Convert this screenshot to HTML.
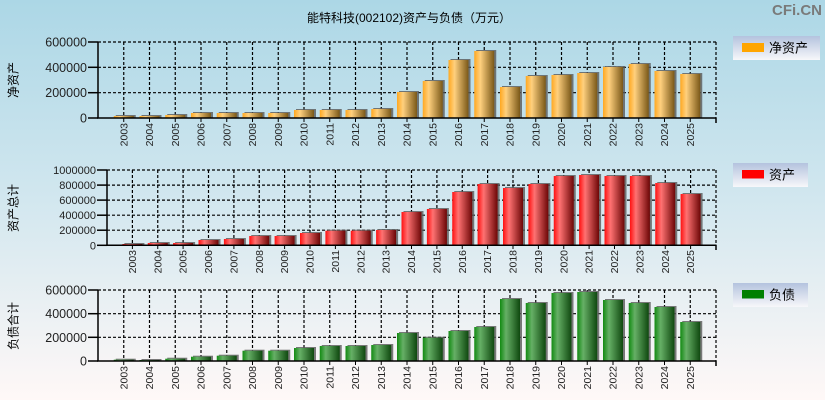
<!DOCTYPE html>
<html><head><meta charset="utf-8">
<style>
html,body{margin:0;padding:0;}
body{width:825px;height:400px;overflow:hidden;}
svg{display:block;font-family:"Liberation Sans","Noto Sans CJK SC",sans-serif;}
</style></head>
<body>
<svg width="825" height="400" viewBox="0 0 825 400" xmlns="http://www.w3.org/2000/svg">
<defs>
<linearGradient id="bg" x1="0" y1="0" x2="0" y2="1">
<stop offset="0" stop-color="#acd7e6"/>
<stop offset="0.5" stop-color="#d2e7ef"/>
<stop offset="1" stop-color="#fff8f7"/>
</linearGradient>
<linearGradient id="lg" x1="0" y1="0" x2="0" y2="1">
<stop offset="0" stop-color="#b4c3de"/>
<stop offset="1" stop-color="#f7f7fa"/>
</linearGradient>
<linearGradient id="go" x1="0" y1="0" x2="1" y2="0">
<stop offset="0" stop-color="#ffa820"/>
<stop offset="0.3" stop-color="#ffd07e"/>
<stop offset="1" stop-color="#7a5818"/>
</linearGradient>
<linearGradient id="gr" x1="0" y1="0" x2="1" y2="0">
<stop offset="0" stop-color="#ff1010"/>
<stop offset="0.3" stop-color="#ff7272"/>
<stop offset="1" stop-color="#6c0606"/>
</linearGradient>
<linearGradient id="gg" x1="0" y1="0" x2="1" y2="0">
<stop offset="0" stop-color="#128a12"/>
<stop offset="0.3" stop-color="#66b066"/>
<stop offset="1" stop-color="#0f480f"/>
</linearGradient>
</defs>
<rect x="0" y="0" width="825" height="400" fill="url(#bg)"/>

<!-- Title -->
<text x="409" y="22" font-size="12" text-anchor="middle" fill="#000">能特科技(002102)资产与负债（万元）</text>
<text x="822" y="15" font-size="15" font-weight="bold" text-anchor="end" fill="#7a7a7a">CFi.CN</text>

<!-- ============ Chart 1 ============ -->
<g stroke="#000" stroke-width="1.2" stroke-dasharray="3,2" fill="none">
<line x1="98" y1="42" x2="716" y2="42"/>
<line x1="98" y1="67.3" x2="716" y2="67.3"/>
<line x1="98" y1="92.7" x2="716" y2="92.7"/>
<line x1="716" y1="42" x2="716" y2="118"/>
<line x1="123.75" y1="42" x2="123.75" y2="118"/><line x1="149.5" y1="42" x2="149.5" y2="118"/><line x1="175.25" y1="42" x2="175.25" y2="118"/><line x1="201" y1="42" x2="201" y2="118"/><line x1="226.75" y1="42" x2="226.75" y2="118"/><line x1="252.5" y1="42" x2="252.5" y2="118"/><line x1="278.25" y1="42" x2="278.25" y2="118"/><line x1="304" y1="42" x2="304" y2="118"/><line x1="329.75" y1="42" x2="329.75" y2="118"/><line x1="355.5" y1="42" x2="355.5" y2="118"/><line x1="381.25" y1="42" x2="381.25" y2="118"/><line x1="407" y1="42" x2="407" y2="118"/><line x1="432.75" y1="42" x2="432.75" y2="118"/><line x1="458.5" y1="42" x2="458.5" y2="118"/><line x1="484.25" y1="42" x2="484.25" y2="118"/><line x1="510" y1="42" x2="510" y2="118"/><line x1="535.75" y1="42" x2="535.75" y2="118"/><line x1="561.5" y1="42" x2="561.5" y2="118"/><line x1="587.25" y1="42" x2="587.25" y2="118"/><line x1="613" y1="42" x2="613" y2="118"/><line x1="638.75" y1="42" x2="638.75" y2="118"/><line x1="664.5" y1="42" x2="664.5" y2="118"/><line x1="690.25" y1="42" x2="690.25" y2="118"/>
</g>
<g fill="#5a5a5a" opacity="0.8">
<rect x="115.75" y="115" width="20" height="3"/><rect x="141.5" y="115" width="20" height="3"/><rect x="167.25" y="114" width="20" height="4"/><rect x="193" y="112" width="20" height="6"/><rect x="218.75" y="112" width="20" height="6"/><rect x="244.5" y="112" width="20" height="6"/><rect x="270.25" y="112" width="20" height="6"/><rect x="296" y="109" width="20" height="9"/><rect x="321.75" y="109" width="20" height="9"/><rect x="347.5" y="109" width="20" height="9"/><rect x="373.25" y="108" width="20" height="10"/><rect x="399" y="91" width="20" height="27"/><rect x="424.75" y="80" width="20" height="38"/><rect x="450.5" y="59" width="20" height="59"/><rect x="476.25" y="50" width="20" height="68"/><rect x="502" y="86" width="20" height="32"/><rect x="527.75" y="75" width="20" height="43"/><rect x="553.5" y="74" width="20" height="44"/><rect x="579.25" y="72" width="20" height="46"/><rect x="605" y="66" width="20" height="52"/><rect x="630.75" y="63" width="20" height="55"/><rect x="656.5" y="70" width="20" height="48"/><rect x="682.25" y="73" width="20" height="45"/>
</g>
<g fill="url(#go)">
<rect x="113.75" y="116" width="20" height="2"/><rect x="139.5" y="116" width="20" height="2"/><rect x="165.25" y="115" width="20" height="3"/><rect x="191" y="113" width="20" height="5"/><rect x="216.75" y="113" width="20" height="5"/><rect x="242.5" y="113" width="20" height="5"/><rect x="268.25" y="113" width="20" height="5"/><rect x="294" y="110" width="20" height="8"/><rect x="319.75" y="110" width="20" height="8"/><rect x="345.5" y="110" width="20" height="8"/><rect x="371.25" y="109" width="20" height="9"/><rect x="397" y="92" width="20" height="26"/><rect x="422.75" y="81" width="20" height="37"/><rect x="448.5" y="60" width="20" height="58"/><rect x="474.25" y="51" width="20" height="67"/><rect x="500" y="87" width="20" height="31"/><rect x="525.75" y="76" width="20" height="42"/><rect x="551.5" y="75" width="20" height="43"/><rect x="577.25" y="73" width="20" height="45"/><rect x="603" y="67" width="20" height="51"/><rect x="628.75" y="64" width="20" height="54"/><rect x="654.5" y="71" width="20" height="47"/><rect x="680.25" y="74" width="20" height="44"/>
</g>
<g stroke="#000" stroke-width="1.5" fill="none">
<line x1="98" y1="41.5" x2="98" y2="118.5"/>
<line x1="97" y1="118" x2="716.5" y2="118"/>
<line x1="88" y1="42" x2="98" y2="42"/><line x1="88" y1="67.3" x2="98" y2="67.3"/><line x1="88" y1="92.7" x2="98" y2="92.7"/><line x1="88" y1="118" x2="98" y2="118"/>
<line x1="716" y1="118" x2="716" y2="123"/>
</g>
<g stroke="#000" stroke-width="1">
<line x1="123.75" y1="118" x2="123.75" y2="122"/><line x1="149.5" y1="118" x2="149.5" y2="122"/><line x1="175.25" y1="118" x2="175.25" y2="122"/><line x1="201" y1="118" x2="201" y2="122"/><line x1="226.75" y1="118" x2="226.75" y2="122"/><line x1="252.5" y1="118" x2="252.5" y2="122"/><line x1="278.25" y1="118" x2="278.25" y2="122"/><line x1="304" y1="118" x2="304" y2="122"/><line x1="329.75" y1="118" x2="329.75" y2="122"/><line x1="355.5" y1="118" x2="355.5" y2="122"/><line x1="381.25" y1="118" x2="381.25" y2="122"/><line x1="407" y1="118" x2="407" y2="122"/><line x1="432.75" y1="118" x2="432.75" y2="122"/><line x1="458.5" y1="118" x2="458.5" y2="122"/><line x1="484.25" y1="118" x2="484.25" y2="122"/><line x1="510" y1="118" x2="510" y2="122"/><line x1="535.75" y1="118" x2="535.75" y2="122"/><line x1="561.5" y1="118" x2="561.5" y2="122"/><line x1="587.25" y1="118" x2="587.25" y2="122"/><line x1="613" y1="118" x2="613" y2="122"/><line x1="638.75" y1="118" x2="638.75" y2="122"/><line x1="664.5" y1="118" x2="664.5" y2="122"/><line x1="690.25" y1="118" x2="690.25" y2="122"/>
</g>
<g font-size="12.5" fill="#222" text-anchor="end">
<text x="87" y="46.5">600000</text><text x="87" y="71.8">400000</text><text x="87" y="97.2">200000</text><text x="87" y="122.5">0</text>
</g>
<g font-size="10.5" fill="#222" text-anchor="end">
<text transform="translate(127.25,123) rotate(-90)">2003</text><text transform="translate(153,123) rotate(-90)">2004</text><text transform="translate(178.75,123) rotate(-90)">2005</text><text transform="translate(204.5,123) rotate(-90)">2006</text><text transform="translate(230.25,123) rotate(-90)">2007</text><text transform="translate(256,123) rotate(-90)">2008</text><text transform="translate(281.75,123) rotate(-90)">2009</text><text transform="translate(307.5,123) rotate(-90)">2010</text><text transform="translate(333.25,123) rotate(-90)">2011</text><text transform="translate(359,123) rotate(-90)">2012</text><text transform="translate(384.75,123) rotate(-90)">2013</text><text transform="translate(410.5,123) rotate(-90)">2014</text><text transform="translate(436.25,123) rotate(-90)">2015</text><text transform="translate(462,123) rotate(-90)">2016</text><text transform="translate(487.75,123) rotate(-90)">2017</text><text transform="translate(513.5,123) rotate(-90)">2018</text><text transform="translate(539.25,123) rotate(-90)">2019</text><text transform="translate(565,123) rotate(-90)">2020</text><text transform="translate(590.75,123) rotate(-90)">2021</text><text transform="translate(616.5,123) rotate(-90)">2022</text><text transform="translate(642.25,123) rotate(-90)">2023</text><text transform="translate(668,123) rotate(-90)">2024</text><text transform="translate(693.75,123) rotate(-90)">2025</text>
</g>
<text transform="translate(17.5,80) rotate(-90)" font-size="12" text-anchor="middle" fill="#000">净资产</text>
<rect x="733" y="36" width="87" height="24" fill="url(#lg)"/>
<rect x="742" y="43" width="22" height="9" fill="#ffa500"/>
<text x="769" y="52.5" font-size="13" fill="#000">净资产</text>

<!-- ============ Chart 2 ============ -->
<g stroke="#000" stroke-width="1.2" stroke-dasharray="3,2" fill="none">
<line x1="107" y1="170" x2="716" y2="170"/>
<line x1="107" y1="185.1" x2="716" y2="185.1"/>
<line x1="107" y1="200.1" x2="716" y2="200.1"/>
<line x1="107" y1="215.2" x2="716" y2="215.2"/>
<line x1="107" y1="230.2" x2="716" y2="230.2"/>
<line x1="716" y1="170" x2="716" y2="245.3"/>
<line x1="132.4" y1="170" x2="132.4" y2="245"/><line x1="157.75" y1="170" x2="157.75" y2="245"/><line x1="183.1" y1="170" x2="183.1" y2="245"/><line x1="208.5" y1="170" x2="208.5" y2="245"/><line x1="233.9" y1="170" x2="233.9" y2="245"/><line x1="259.25" y1="170" x2="259.25" y2="245"/><line x1="284.6" y1="170" x2="284.6" y2="245"/><line x1="310" y1="170" x2="310" y2="245"/><line x1="335.4" y1="170" x2="335.4" y2="245"/><line x1="360.75" y1="170" x2="360.75" y2="245"/><line x1="386.1" y1="170" x2="386.1" y2="245"/><line x1="411.5" y1="170" x2="411.5" y2="245"/><line x1="436.9" y1="170" x2="436.9" y2="245"/><line x1="462.25" y1="170" x2="462.25" y2="245"/><line x1="487.6" y1="170" x2="487.6" y2="245"/><line x1="513" y1="170" x2="513" y2="245"/><line x1="538.4" y1="170" x2="538.4" y2="245"/><line x1="563.75" y1="170" x2="563.75" y2="245"/><line x1="589.1" y1="170" x2="589.1" y2="245"/><line x1="614.5" y1="170" x2="614.5" y2="245"/><line x1="639.9" y1="170" x2="639.9" y2="245"/><line x1="665.25" y1="170" x2="665.25" y2="245"/><line x1="690.6" y1="170" x2="690.6" y2="245"/>
</g>
<g fill="#5a5a5a" opacity="0.8">
<rect x="124.4" y="243" width="20" height="2.3"/><rect x="149.75" y="242" width="20" height="3.3"/><rect x="175.1" y="242" width="20" height="3.3"/><rect x="200.5" y="239" width="20" height="6.3"/><rect x="225.9" y="238" width="20" height="7.3"/><rect x="251.25" y="235" width="20" height="10.3"/><rect x="276.6" y="235" width="20" height="10.3"/><rect x="302" y="232" width="20" height="13.3"/><rect x="327.4" y="229.7" width="20" height="15.6"/><rect x="352.75" y="229.7" width="20" height="15.6"/><rect x="378.1" y="229" width="20" height="16.3"/><rect x="403.5" y="211" width="20" height="34.3"/><rect x="428.9" y="208" width="20" height="37.3"/><rect x="454.25" y="191" width="20" height="54.3"/><rect x="479.6" y="183" width="20" height="62.3"/><rect x="505" y="187" width="20" height="58.3"/><rect x="530.4" y="183" width="20" height="62.3"/><rect x="555.75" y="175" width="20" height="70.3"/><rect x="581.1" y="174" width="20" height="71.3"/><rect x="606.5" y="175" width="20" height="70.3"/><rect x="631.9" y="175" width="20" height="70.3"/><rect x="657.25" y="182" width="20" height="63.3"/><rect x="682.6" y="193" width="20" height="52.3"/>
</g>
<g fill="url(#gr)">
<rect x="122.4" y="244" width="20" height="1.3"/><rect x="147.75" y="243" width="20" height="2.3"/><rect x="173.1" y="243" width="20" height="2.3"/><rect x="198.5" y="240" width="20" height="5.3"/><rect x="223.9" y="239" width="20" height="6.3"/><rect x="249.25" y="236" width="20" height="9.3"/><rect x="274.6" y="236" width="20" height="9.3"/><rect x="300" y="233" width="20" height="12.3"/><rect x="325.4" y="230.7" width="20" height="14.6"/><rect x="350.75" y="230.7" width="20" height="14.6"/><rect x="376.1" y="230" width="20" height="15.3"/><rect x="401.5" y="212" width="20" height="33.3"/><rect x="426.9" y="209" width="20" height="36.3"/><rect x="452.25" y="192" width="20" height="53.3"/><rect x="477.6" y="184" width="20" height="61.3"/><rect x="503" y="188" width="20" height="57.3"/><rect x="528.4" y="184" width="20" height="61.3"/><rect x="553.75" y="176" width="20" height="69.3"/><rect x="579.1" y="175" width="20" height="70.3"/><rect x="604.5" y="176" width="20" height="69.3"/><rect x="629.9" y="176" width="20" height="69.3"/><rect x="655.25" y="183" width="20" height="62.3"/><rect x="680.6" y="194" width="20" height="51.3"/>
</g>
<g stroke="#000" stroke-width="1.5" fill="none">
<line x1="107" y1="169.5" x2="107" y2="245.8"/>
<line x1="106" y1="245.3" x2="716.5" y2="245.3"/>
<line x1="97" y1="170" x2="107" y2="170"/><line x1="97" y1="185.1" x2="107" y2="185.1"/><line x1="97" y1="200.1" x2="107" y2="200.1"/><line x1="97" y1="215.2" x2="107" y2="215.2"/><line x1="97" y1="230.2" x2="107" y2="230.2"/><line x1="97" y1="245.3" x2="107" y2="245.3"/>
<line x1="716" y1="245" x2="716" y2="250"/>
</g>
<g stroke="#000" stroke-width="1">
<line x1="132.4" y1="245" x2="132.4" y2="249"/><line x1="157.75" y1="245" x2="157.75" y2="249"/><line x1="183.1" y1="245" x2="183.1" y2="249"/><line x1="208.5" y1="245" x2="208.5" y2="249"/><line x1="233.9" y1="245" x2="233.9" y2="249"/><line x1="259.25" y1="245" x2="259.25" y2="249"/><line x1="284.6" y1="245" x2="284.6" y2="249"/><line x1="310" y1="245" x2="310" y2="249"/><line x1="335.4" y1="245" x2="335.4" y2="249"/><line x1="360.75" y1="245" x2="360.75" y2="249"/><line x1="386.1" y1="245" x2="386.1" y2="249"/><line x1="411.5" y1="245" x2="411.5" y2="249"/><line x1="436.9" y1="245" x2="436.9" y2="249"/><line x1="462.25" y1="245" x2="462.25" y2="249"/><line x1="487.6" y1="245" x2="487.6" y2="249"/><line x1="513" y1="245" x2="513" y2="249"/><line x1="538.4" y1="245" x2="538.4" y2="249"/><line x1="563.75" y1="245" x2="563.75" y2="249"/><line x1="589.1" y1="245" x2="589.1" y2="249"/><line x1="614.5" y1="245" x2="614.5" y2="249"/><line x1="639.9" y1="245" x2="639.9" y2="249"/><line x1="665.25" y1="245" x2="665.25" y2="249"/><line x1="690.6" y1="245" x2="690.6" y2="249"/>
</g>
<g font-size="11" fill="#222" text-anchor="end">
<text x="96" y="174">1000000</text><text x="96" y="189.1">800000</text><text x="96" y="204.1">600000</text><text x="96" y="219.2">400000</text><text x="96" y="234.2">200000</text><text x="96" y="249.3">0</text>
</g>
<g font-size="10.5" fill="#222" text-anchor="end">
<text transform="translate(135.9,250) rotate(-90)">2003</text><text transform="translate(161.25,250) rotate(-90)">2004</text><text transform="translate(186.6,250) rotate(-90)">2005</text><text transform="translate(212,250) rotate(-90)">2006</text><text transform="translate(237.4,250) rotate(-90)">2007</text><text transform="translate(262.75,250) rotate(-90)">2008</text><text transform="translate(288.1,250) rotate(-90)">2009</text><text transform="translate(313.5,250) rotate(-90)">2010</text><text transform="translate(338.9,250) rotate(-90)">2011</text><text transform="translate(364.25,250) rotate(-90)">2012</text><text transform="translate(389.6,250) rotate(-90)">2013</text><text transform="translate(415,250) rotate(-90)">2014</text><text transform="translate(440.4,250) rotate(-90)">2015</text><text transform="translate(465.75,250) rotate(-90)">2016</text><text transform="translate(491.1,250) rotate(-90)">2017</text><text transform="translate(516.5,250) rotate(-90)">2018</text><text transform="translate(541.9,250) rotate(-90)">2019</text><text transform="translate(567.25,250) rotate(-90)">2020</text><text transform="translate(592.6,250) rotate(-90)">2021</text><text transform="translate(618,250) rotate(-90)">2022</text><text transform="translate(643.4,250) rotate(-90)">2023</text><text transform="translate(668.75,250) rotate(-90)">2024</text><text transform="translate(694.1,250) rotate(-90)">2025</text>
</g>
<text transform="translate(17.5,208) rotate(-90)" font-size="12" text-anchor="middle" fill="#000">资产总计</text>
<rect x="733" y="163" width="75" height="24" fill="url(#lg)"/>
<rect x="742" y="170" width="22" height="8.5" fill="#ff0000"/>
<text x="769" y="179.5" font-size="13" fill="#000">资产</text>

<!-- ============ Chart 3 ============ -->
<g stroke="#000" stroke-width="1.2" stroke-dasharray="3,2" fill="none">
<line x1="98" y1="290" x2="716" y2="290"/>
<line x1="98" y1="313.7" x2="716" y2="313.7"/>
<line x1="98" y1="337.3" x2="716" y2="337.3"/>
<line x1="716" y1="290" x2="716" y2="361"/>
<line x1="123.75" y1="290" x2="123.75" y2="361"/><line x1="149.5" y1="290" x2="149.5" y2="361"/><line x1="175.25" y1="290" x2="175.25" y2="361"/><line x1="201" y1="290" x2="201" y2="361"/><line x1="226.75" y1="290" x2="226.75" y2="361"/><line x1="252.5" y1="290" x2="252.5" y2="361"/><line x1="278.25" y1="290" x2="278.25" y2="361"/><line x1="304" y1="290" x2="304" y2="361"/><line x1="329.75" y1="290" x2="329.75" y2="361"/><line x1="355.5" y1="290" x2="355.5" y2="361"/><line x1="381.25" y1="290" x2="381.25" y2="361"/><line x1="407" y1="290" x2="407" y2="361"/><line x1="432.75" y1="290" x2="432.75" y2="361"/><line x1="458.5" y1="290" x2="458.5" y2="361"/><line x1="484.25" y1="290" x2="484.25" y2="361"/><line x1="510" y1="290" x2="510" y2="361"/><line x1="535.75" y1="290" x2="535.75" y2="361"/><line x1="561.5" y1="290" x2="561.5" y2="361"/><line x1="587.25" y1="290" x2="587.25" y2="361"/><line x1="613" y1="290" x2="613" y2="361"/><line x1="638.75" y1="290" x2="638.75" y2="361"/><line x1="664.5" y1="290" x2="664.5" y2="361"/><line x1="690.25" y1="290" x2="690.25" y2="361"/>
</g>
<g fill="#5a5a5a" opacity="0.8">
<rect x="115.75" y="358.7" width="20" height="2.3"/><rect x="141.5" y="359" width="20" height="2"/><rect x="167.25" y="357.7" width="20" height="3.3"/><rect x="193" y="355.7" width="20" height="5.3"/><rect x="218.75" y="354.7" width="20" height="6.3"/><rect x="244.5" y="349.7" width="20" height="11.3"/><rect x="270.25" y="349.7" width="20" height="11.3"/><rect x="296" y="347" width="20" height="14"/><rect x="321.75" y="345" width="20" height="16"/><rect x="347.5" y="345" width="20" height="16"/><rect x="373.25" y="344" width="20" height="17"/><rect x="399" y="332" width="20" height="29"/><rect x="424.75" y="336.7" width="20" height="24.3"/><rect x="450.5" y="330" width="20" height="31"/><rect x="476.25" y="326" width="20" height="35"/><rect x="502" y="298" width="20" height="63"/><rect x="527.75" y="302" width="20" height="59"/><rect x="553.5" y="292" width="20" height="69"/><rect x="579.25" y="291" width="20" height="70"/><rect x="605" y="299" width="20" height="62"/><rect x="630.75" y="302" width="20" height="59"/><rect x="656.5" y="306" width="20" height="55"/><rect x="682.25" y="321" width="20" height="40"/>
</g>
<g fill="url(#gg)">
<rect x="113.75" y="359.7" width="20" height="1.3"/><rect x="139.5" y="360" width="20" height="1"/><rect x="165.25" y="358.7" width="20" height="2.3"/><rect x="191" y="356.7" width="20" height="4.3"/><rect x="216.75" y="355.7" width="20" height="5.3"/><rect x="242.5" y="350.7" width="20" height="10.3"/><rect x="268.25" y="350.7" width="20" height="10.3"/><rect x="294" y="348" width="20" height="13"/><rect x="319.75" y="346" width="20" height="15"/><rect x="345.5" y="346" width="20" height="15"/><rect x="371.25" y="345" width="20" height="16"/><rect x="397" y="333" width="20" height="28"/><rect x="422.75" y="337.7" width="20" height="23.3"/><rect x="448.5" y="331" width="20" height="30"/><rect x="474.25" y="327" width="20" height="34"/><rect x="500" y="299" width="20" height="62"/><rect x="525.75" y="303" width="20" height="58"/><rect x="551.5" y="293" width="20" height="68"/><rect x="577.25" y="292" width="20" height="69"/><rect x="603" y="300" width="20" height="61"/><rect x="628.75" y="303" width="20" height="58"/><rect x="654.5" y="307" width="20" height="54"/><rect x="680.25" y="322" width="20" height="39"/>
</g>
<g stroke="#000" stroke-width="1.5" fill="none">
<line x1="98" y1="289.5" x2="98" y2="361.5"/>
<line x1="97" y1="361" x2="716.5" y2="361"/>
<line x1="88" y1="290" x2="98" y2="290"/><line x1="88" y1="313.7" x2="98" y2="313.7"/><line x1="88" y1="337.3" x2="98" y2="337.3"/><line x1="88" y1="361" x2="98" y2="361"/>
<line x1="716" y1="361" x2="716" y2="366"/>
</g>
<g stroke="#000" stroke-width="1">
<line x1="123.75" y1="361" x2="123.75" y2="365"/><line x1="149.5" y1="361" x2="149.5" y2="365"/><line x1="175.25" y1="361" x2="175.25" y2="365"/><line x1="201" y1="361" x2="201" y2="365"/><line x1="226.75" y1="361" x2="226.75" y2="365"/><line x1="252.5" y1="361" x2="252.5" y2="365"/><line x1="278.25" y1="361" x2="278.25" y2="365"/><line x1="304" y1="361" x2="304" y2="365"/><line x1="329.75" y1="361" x2="329.75" y2="365"/><line x1="355.5" y1="361" x2="355.5" y2="365"/><line x1="381.25" y1="361" x2="381.25" y2="365"/><line x1="407" y1="361" x2="407" y2="365"/><line x1="432.75" y1="361" x2="432.75" y2="365"/><line x1="458.5" y1="361" x2="458.5" y2="365"/><line x1="484.25" y1="361" x2="484.25" y2="365"/><line x1="510" y1="361" x2="510" y2="365"/><line x1="535.75" y1="361" x2="535.75" y2="365"/><line x1="561.5" y1="361" x2="561.5" y2="365"/><line x1="587.25" y1="361" x2="587.25" y2="365"/><line x1="613" y1="361" x2="613" y2="365"/><line x1="638.75" y1="361" x2="638.75" y2="365"/><line x1="664.5" y1="361" x2="664.5" y2="365"/><line x1="690.25" y1="361" x2="690.25" y2="365"/>
</g>
<g font-size="12.5" fill="#222" text-anchor="end">
<text x="87" y="294.5">600000</text><text x="87" y="318.2">400000</text><text x="87" y="341.8">200000</text><text x="87" y="365.5">0</text>
</g>
<g font-size="10.5" fill="#222" text-anchor="end">
<text transform="translate(127.25,366) rotate(-90)">2003</text><text transform="translate(153,366) rotate(-90)">2004</text><text transform="translate(178.75,366) rotate(-90)">2005</text><text transform="translate(204.5,366) rotate(-90)">2006</text><text transform="translate(230.25,366) rotate(-90)">2007</text><text transform="translate(256,366) rotate(-90)">2008</text><text transform="translate(281.75,366) rotate(-90)">2009</text><text transform="translate(307.5,366) rotate(-90)">2010</text><text transform="translate(333.25,366) rotate(-90)">2011</text><text transform="translate(359,366) rotate(-90)">2012</text><text transform="translate(384.75,366) rotate(-90)">2013</text><text transform="translate(410.5,366) rotate(-90)">2014</text><text transform="translate(436.25,366) rotate(-90)">2015</text><text transform="translate(462,366) rotate(-90)">2016</text><text transform="translate(487.75,366) rotate(-90)">2017</text><text transform="translate(513.5,366) rotate(-90)">2018</text><text transform="translate(539.25,366) rotate(-90)">2019</text><text transform="translate(565,366) rotate(-90)">2020</text><text transform="translate(590.75,366) rotate(-90)">2021</text><text transform="translate(616.5,366) rotate(-90)">2022</text><text transform="translate(642.25,366) rotate(-90)">2023</text><text transform="translate(668,366) rotate(-90)">2024</text><text transform="translate(693.75,366) rotate(-90)">2025</text>
</g>
<text transform="translate(17.5,326) rotate(-90)" font-size="12" text-anchor="middle" fill="#000">负债合计</text>
<rect x="733" y="283" width="75" height="24" fill="url(#lg)"/>
<rect x="742" y="290" width="22" height="8.5" fill="#008000"/>
<text x="769" y="299.5" font-size="13" fill="#000">负债</text>
</svg>
</body></html>
